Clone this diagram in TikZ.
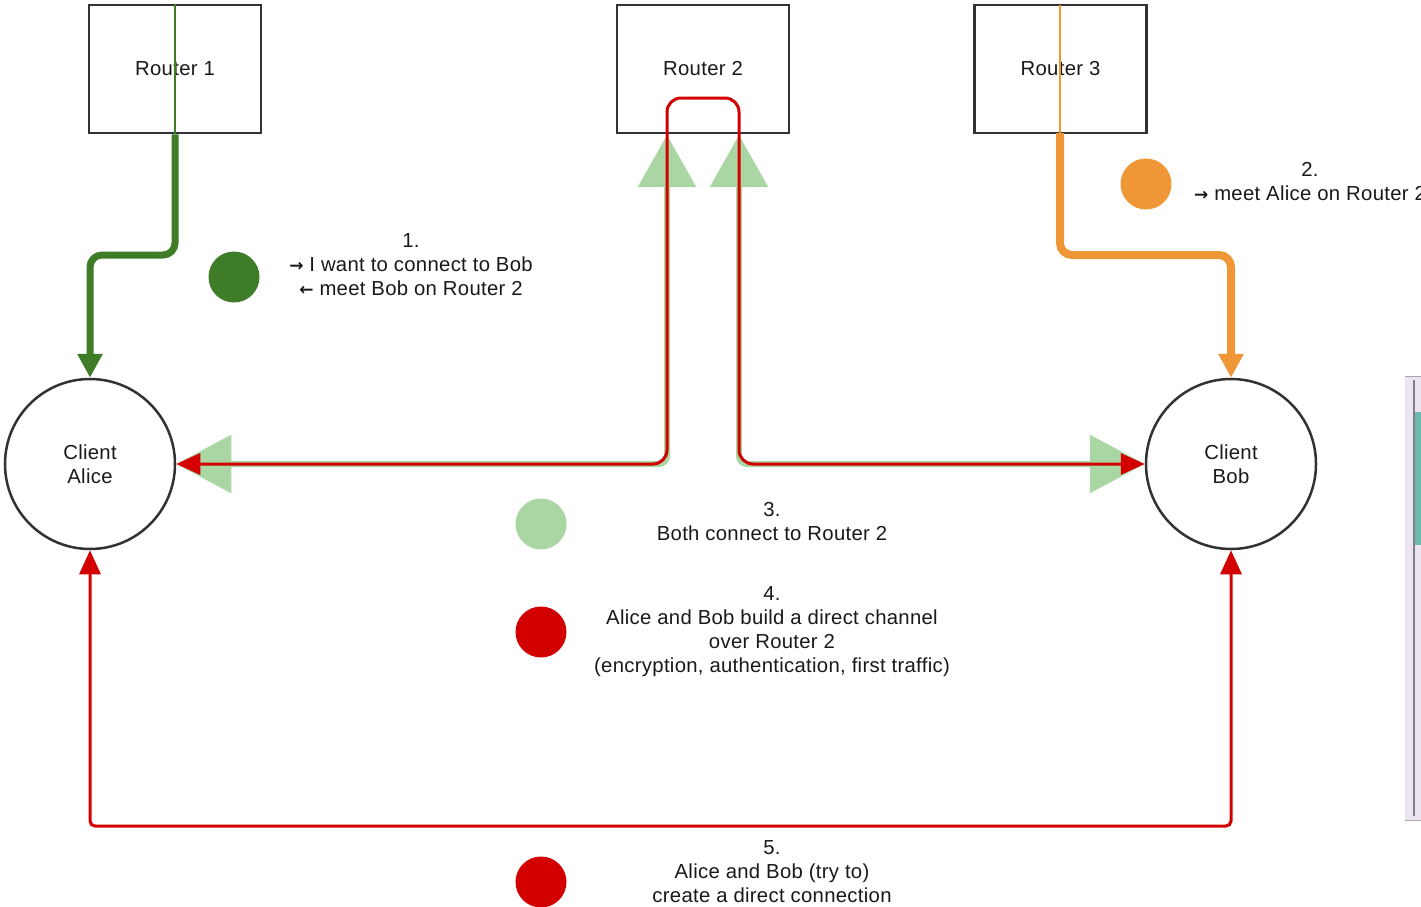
\documentclass[tikz,border=0pt]{standalone}
\usepackage{fontspec}
\setmainfont{Liberation Sans}[LetterSpace=1.5]
\newfontfamily\arrfont{DejaVu Sans}
\usetikzlibrary{arrows.meta}
\definecolor{lgreen}{RGB}{170,214,163}
\definecolor{dgreen}{RGB}{62,124,40}
\definecolor{myorange}{RGB}{239,150,55}
\definecolor{myred}{RGB}{210,0,0}
\definecolor{txt}{RGB}{25,25,25}
\definecolor{boxline}{RGB}{50,50,50}
\definecolor{winbg}{RGB}{236,228,240}
\definecolor{winteal}{RGB}{110,185,175}
\newcommand\myra{{\arrfont\bfseries\fontsize{17}{24}\selectfont →}}
\newcommand\myla{{\arrfont\bfseries\fontsize{17}{24}\selectfont ←}}
\begin{document}
\begin{tikzpicture}[x=1pt,y=1pt,
  font=\fontsize{20.3}{24}\selectfont, text=txt,
  router/.style={draw=boxline, line width=2.5pt, fill=white, minimum width=172pt, minimum height=128pt, inner sep=0pt},
  client/.style={circle, draw=boxline, line width=2.5pt, fill=white, minimum size=170pt, inner sep=0pt, align=center},
  dot/.style={circle, minimum size=51pt, inner sep=0pt},
  lbl/.style={align=center, inner sep=0pt},
  lgpath/.style={draw=lgreen, line width=6pt, rounded corners=8pt, arrows={Triangle[length=55pt,width=57pt]-Triangle[length=52pt,width=57pt]}},
  redpath/.style={draw=myred, line width=3pt, arrows={Triangle[length=24pt,width=21pt]-Triangle[length=24pt,width=21pt]}},
  greenpath/.style={draw=dgreen, line width=7pt, rounded corners=12pt, arrows={-Triangle[length=24pt,width=24pt]}},
  orangepath/.style={draw=myorange, line width=8pt, rounded corners=12pt, arrows={-Triangle[length=24pt,width=24pt]}}
]
\useasboundingbox (0,0) rectangle (1421,-907);
\clip (0,0) rectangle (1421,-907);
\fill[white] (0,0) rectangle (1421,-907);

% routers
\node[router] (r1) at (175,-69) {Router 1};
\node[router] (r2) at (703,-69) {Router 2};
\node[router] (r3) at (1060.5,-69) {Router 3};

% clients
\node[client] (alice) at (90,-464) {Client\\Alice};
\node[client] (bob) at (1231,-464) {Client\\Bob};

% coordinates
\coordinate (r2a) at (667,-135);
\coordinate (r2b) at (739,-135);
\coordinate (ra) at (667,-98);
\coordinate (rb) at (739,-98);
\coordinate (cb) at (660,-826);
\coordinate (g1) at (175,-255);
\coordinate (o1) at (1060,-255);

% thin lines through routers 1 and 3
\draw[dgreen, line width=2pt] (r1.north) -- (r1.south);
\draw[myorange, line width=2pt] (1060,-5) -- (1060,-133);

% step 1 / 2 paths
\draw[greenpath] (r1.south) -- (g1) -| (alice.north);
\draw[orangepath] (1060,-133) -- (o1) -| (bob.north);

% step 3 light green paths
\draw[lgpath] (alice.east) -| (r2a);
\draw[lgpath] (bob.west) -| (r2b);

% step 4 red channel over router 2
\draw[redpath, rounded corners=14pt] (alice.east) -| (ra) -- (rb) |- (bob.west);

% step 5 direct connection
\draw[redpath, rounded corners=5pt] (alice.south) |- (cb) -| (bob.south);

% dots
\node[dot, fill=dgreen] (d1) at (234,-277) {};
\node[dot, fill=myorange] (d2) at (1146,-184) {};
\node[dot, fill=lgreen] (d3) at (541,-524) {};
\node[dot, fill=myred] (d4) at (541,-632) {};
\node[dot, fill=myred] (d5) at (541,-882) {};

% labels
\node[lbl] (t1) at (411,-265) {1.\\\myra{} I want to connect to Bob\\\myla{} meet Bob on Router 2};
\node[lbl] (t2) at (1310,-182) {2.\\\myra{} meet Alice on Router 2};
\node[lbl] (t3) at (772,-522) {3.\\Both connect to Router 2};
\node[lbl] (t4) at (772,-632) {4.\\Alice and Bob build a direct channel\\over Router 2\\(encryption, authentication, first traffic)};
\node[lbl] (t5) at (772,-872) {5.\\Alice and Bob (try to)\\create a direct connection};

% window edge at right border
\fill[winbg] (1405,-376) rectangle (1421,-820);
\fill[winteal] (1415,-412) rectangle (1421,-545);
\draw[gray, line width=1.5pt] (1414,-380) -- (1414,-816);
\draw[gray!70, line width=1pt] (1405,-376) -- (1421,-376);
\draw[gray!70, line width=1pt] (1405,-820) -- (1421,-820);
\end{tikzpicture}
\end{document}
